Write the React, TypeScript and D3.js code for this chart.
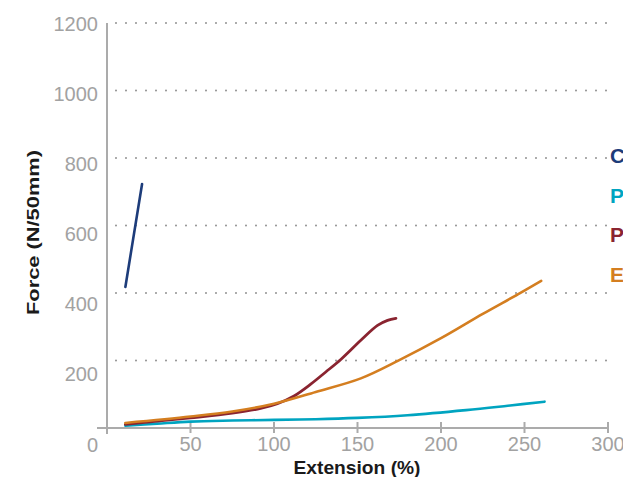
import * as d3 from "d3";

const xTicks = [50, 100, 150, 200, 250, 300];
const yTicks = [0, 200, 400, 600, 800, 1000, 1200];
const gridValues = [200, 400, 600, 800, 1000, 1200];

const seriesNames = ["C", "P", "P", "E"];
const seriesColors = ["#1d3c7a", "#00a4c0", "#8a2430", "#d47e20"];

// [extension %, force N/50mm]
const navyLine: [number, number][] = [[11, 418], [21, 723]];
const tealLine: [number, number][] = [
  [11, 7], [30, 13], [50, 19], [75, 22], [100, 24], [125, 26], [150, 30],
  [180, 38], [215, 53], [240, 66], [262, 78]
];
const redLine: [number, number][] = [
  [11, 11], [50, 30], [75, 44], [92, 58], [102, 72], [112, 95],
  [122, 130], [131, 166], [140, 203], [152, 260], [162, 304], [168, 319], [173, 325]
];
const orangeLine: [number, number][] = [
  [11, 15], [50, 34], [75, 49], [100, 72], [125, 107],
  [152, 147], [175, 201], [200, 266], [225, 338], [246, 396], [260, 436]
];

const lines = [navyLine, tealLine, redLine, orangeLine];

export default function App() {
  const width = 623;
  const height = 477;
  const x = d3.scaleLinear([0, 300], [107, 608]);
  const y = d3.scaleLinear([0, 1200], [428, 23]);
  // tick labels sit on their own, slightly stretched spacing
  const yLabel = d3.scaleLinear([0, 1200], [444, 23.3]);
  const line = d3
    .line<[number, number]>(d => x(d[0]), d => y(d[1]))
    .curve(d3.curveCatmullRom.alpha(0.5));
  const tickFont = "'Liberation Sans', Arial, sans-serif";
  const boldFont = "'Liberation Sans Narrow', 'Liberation Sans', Arial, sans-serif";

  return (
    <svg
      width={width}
      height={height}
      style={{ position: "absolute", left: 0, top: 0, background: "#fff" }}
    >
      {/* dotted grid */}
      <g stroke="#9a9a9a" strokeWidth={2.2} strokeLinecap="round" strokeDasharray="0,10">
        {gridValues.map(v => (
          <line key={v} x1={116} x2={x(300)} y1={y(v)} y2={y(v)} />
        ))}
      </g>

      {/* axes */}
      <g stroke="#ababab" strokeWidth={2}>
        <line x1={x(0)} x2={x(0)} y1={y(1200)} y2={y(0) + 6} />
        <line x1={97} x2={x(300)} y1={y(0)} y2={y(0)} />
        {xTicks.map(t => (
          <line key={t} x1={x(t)} x2={x(t)} y1={y(0) - 6} y2={y(0) + 5} />
        ))}
      </g>

      <g fill="#a2a2a2" fontFamily={tickFont} fontSize={20}>
        {yTicks.map(t => (
          <text key={t} x={98} y={yLabel(t) + 7.5} textAnchor="end">
            {t}
          </text>
        ))}
        {xTicks.map(t => (
          <text key={t} x={x(t)} y={451} textAnchor="middle">
            {t}
          </text>
        ))}
      </g>

      {/* series */}
      {lines.map((d, i) => (
        <path
          key={i}
          d={line(d) ?? ""}
          fill="none"
          stroke={seriesColors[i]}
          strokeWidth={i === 2 ? 2.8 : 2.6}
          strokeLinecap="round"
        />
      ))}

      {/* legend, cut by the right edge */}
      <g fontFamily={boldFont} fontWeight="bold" fontSize={21}>
        {seriesNames.map((n, i) => (
          <text key={i} x={610} y={163 + i * 39.5} fill={seriesColors[i]}>
            {n}
          </text>
        ))}
      </g>

      <text
        x={357}
        y={474}
        textAnchor="middle"
        fontFamily={boldFont}
        fontWeight="bold"
        fontSize={19}
        fill="#1a1a1a"
        textLength={127}
        lengthAdjust="spacingAndGlyphs"
      >
        Extension (%)
      </text>
      <text
        transform="translate(39,232.5) rotate(-90)"
        textAnchor="middle"
        fontFamily={boldFont}
        fontWeight="bold"
        fontSize={17}
        fill="#1a1a1a"
        textLength={165}
        lengthAdjust="spacingAndGlyphs"
      >
        Force (N/50mm)
      </text>
    </svg>
  );
}
